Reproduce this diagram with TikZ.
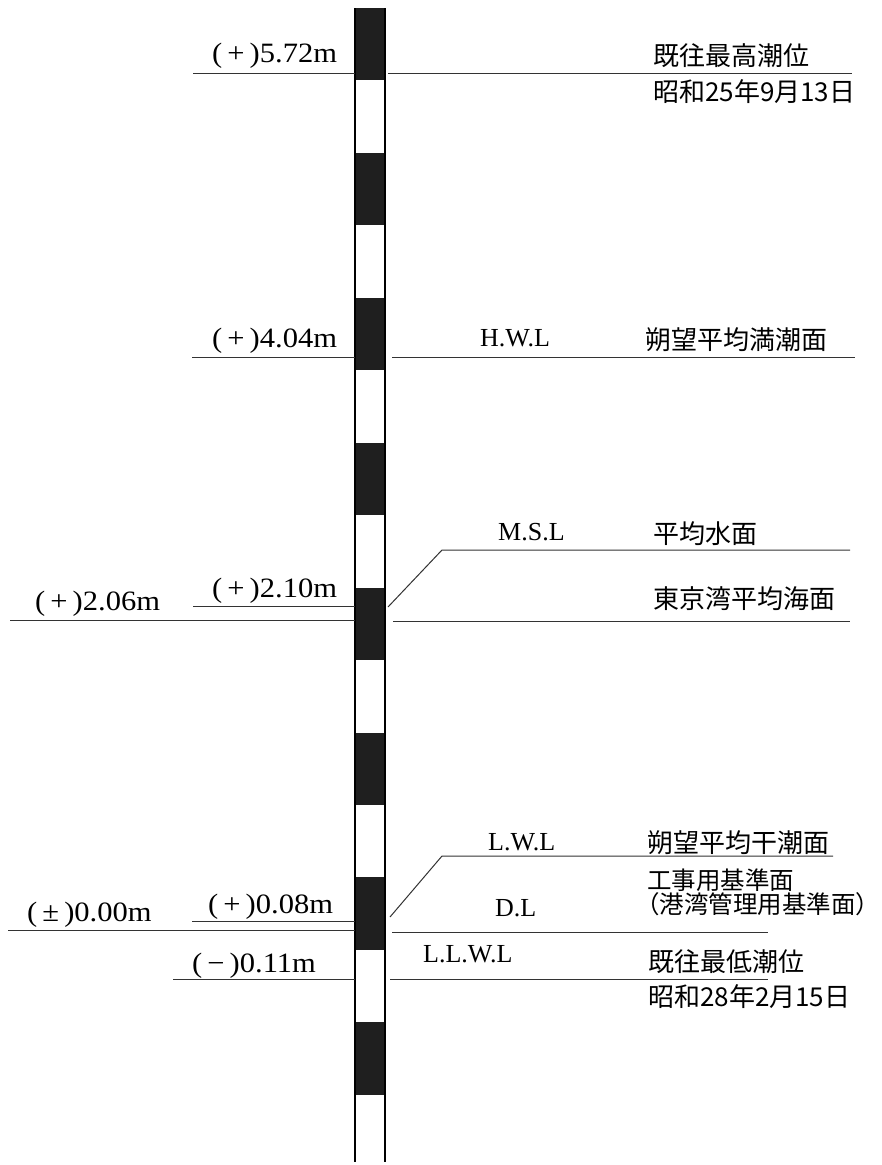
\documentclass[tikz,border=0pt]{standalone}
\usepackage{fontspec}
\usepackage{graphicx}
\setmainfont{Liberation Serif}
\newfontfamily\jpfont{Noto Sans CJK JP}
\newcommand\widelab[1]{\scalebox{1.09}[1]{#1}}
\begin{document}
\begin{tikzpicture}[x=1pt,y=-1pt,
  lvl/.style={line width=1pt, draw=black!80},
  lat/.style={anchor=base west, inner sep=0pt, font=\fontsize{26}{28}\selectfont},
  val/.style={anchor=base west, inner sep=0pt, font=\fontsize{28}{30}\selectfont},
  jpt/.style={anchor=west, inner sep=0pt, font=\jpfont\fontsize{26}{28}\selectfont},
  blk/.style={fill=black!88, draw=none},
  side/.style={line width=1.3pt, draw=black}]
\useasboundingbox[fill=white] (0,0) rectangle (882,1165);

% staff
\foreach \i in {0,...,7}{
  \fill[blk] (355,{8+144.9*\i}) rectangle (385,{8+144.9*\i+72.4});
}
\draw[side] (355,8) coordinate (poleTL) -- (355,1162) coordinate (poleBL);
\draw[side] (385,8) coordinate (poleTR) -- (385,1162) coordinate (poleBR);

% (+)5.72m  highest
\node[val] (v572) at (212,62) {\widelab{(\,+\,)5.72m}};
\draw[lvl] (193,73) -- (355,73);
\draw[lvl] (388,73) -- (852,73);
\node[jpt] (maxH) at (653,56) {既往最高潮位};
\node[jpt] (maxHd) at (653,92) {昭和25年9月13日};

% (+)4.04m  H.W.L
\node[val] (v404) at (212,347) {\widelab{(\,+\,)4.04m}};
\draw[lvl] (192,357) -- (355,357);
\draw[lvl] (392,357) -- (855,357);
\node[lat] (hwl) at (480,346) {H.W.L};
\node[jpt] (hwlj) at (645,340) {朔望平均満潮面};

% M.S.L
\node[val] (v210) at (212,597) {\widelab{(\,+\,)2.10m}};
\draw[lvl] (193,606) -- (355,606);
\node[val] (v206) at (35,610) {\widelab{(\,+\,)2.06m}};
\draw[lvl] (10,620) -- (355,620);
\draw[lvl] (388,607) -- (442,550) -- (850,550);
\draw[lvl] (393,621) -- (850,621);
\node[lat] (msl) at (498,540) {M.S.L};
\node[jpt] (mslj) at (653,534) {平均水面};
\node[jpt] (tokyo) at (653,599) {東京湾平均海面};

% L.W.L
\draw[lvl] (390,917) -- (442,856) -- (833,856);
\node[lat] (lwl) at (488,850) {L.W.L};
\node[jpt] (lwlj) at (647,843) {朔望平均干潮面};

% D.L
\node[val] (v008) at (208,913) {\widelab{(\,+\,)0.08m}};
\draw[lvl] (192,921) -- (355,921);
\node[val] (v000) at (27,921) {\widelab{(\,±\,)0.00m}};
\draw[lvl] (8,930) -- (355,930);
\draw[lvl] (392,932) -- (768,932);
\node[lat] (dl) at (495,916) {D.L};
\node[anchor=north west, inner sep=0pt, align=left,
      font=\jpfont\fontsize{24.5}{22.5}\selectfont] (dlj) at (647,869)
  {工事用基準面\\\hspace*{-12pt}（港湾管理用基準面）};

% L.L.W.L
\node[val] (v011) at (192,972) {\widelab{(\,−\,)0.11m}};
\draw[lvl] (173,979) -- (355,979);
\draw[lvl] (390,979) -- (768,979);
\node[lat] (llwl) at (423,962) {L.L.W.L};
\node[jpt] (minL) at (648,962) {既往最低潮位};
\node[jpt] (minLd) at (648,997) {昭和28年2月15日};
\end{tikzpicture}
\end{document}
